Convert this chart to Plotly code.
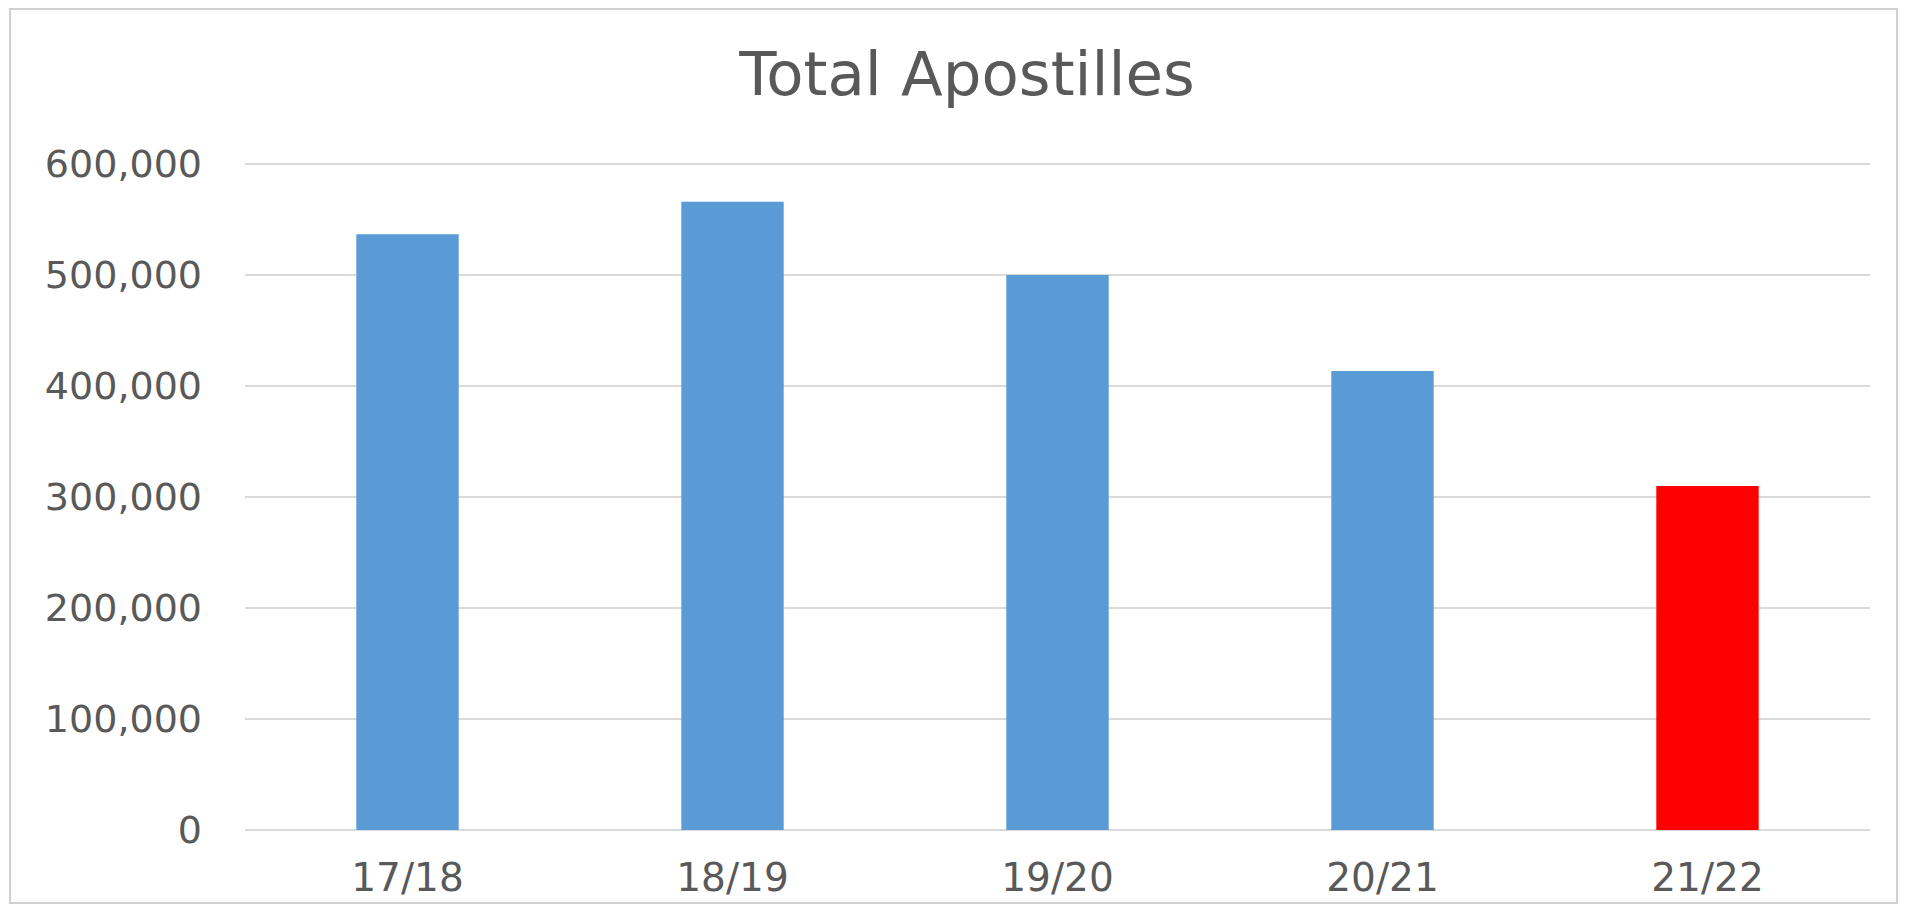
import plotly.graph_objects as go

categories = ["17/18", "18/19", "19/20", "20/21", "21/22"]
values = [536900, 566000, 500000, 413500, 309900]
bar_colors = ["#5B9BD5", "#5B9BD5", "#5B9BD5", "#5B9BD5", "#FF0000"]
y_ticks = [0, 100000, 200000, 300000, 400000, 500000, 600000]
title_text = "Total Apostilles"

# page body has an 8px margin, so the figure is offset by 8px
W, H = 1900, 914
L, R, T, B = 237, 38, 155, 92

fig = go.Figure(go.Bar(
    x=categories, y=values,
    marker=dict(color=bar_colors, line=dict(width=0)),
    width=0.315,
    hoverinfo="x+y",
))

text_color = "#595959"
font_family = "DejaVu Sans"

fig.update_layout(
    width=W, height=H,
    margin=dict(l=L, r=R, t=T, b=B, autoexpand=False),
    paper_bgcolor="white", plot_bgcolor="white",
    showlegend=False,
    title=dict(
        text=title_text, x=959 / W, xanchor="center", xref="container",
        y=1 - 66 / H, yanchor="middle", yref="container",
        font=dict(family=font_family, size=61, color=text_color),
    ),
    xaxis=dict(
        showgrid=False, showline=False, zeroline=False,
        tickfont=dict(family=font_family, size=39, color=text_color),
        ticks="", ticklabelstandoff=21,
    ),
    yaxis=dict(
        range=[0, 601000], tickvals=y_ticks, tickformat=",d",
        showgrid=True, gridcolor="#D9D9D9", gridwidth=2,
        zeroline=True, zerolinecolor="#D9D9D9", zerolinewidth=2,
        showline=False, ticks="",
        tickfont=dict(family=font_family, size=38, color=text_color),
        ticklabelstandoff=42,
    ),
)

pw = W - L - R
ph = H - T - B
def px_x(p):
    return (p - L) / pw
def px_y(p):
    return 1 - (p - T) / ph

fig.add_shape(
    type="rect", xref="paper", yref="paper",
    x0=px_x(2), x1=px_x(1889), y0=px_y(895), y1=px_y(1),
    line=dict(color="#D0D0D0", width=2), fillcolor="rgba(0,0,0,0)", layer="below",
)

fig.write_html("out.html")
